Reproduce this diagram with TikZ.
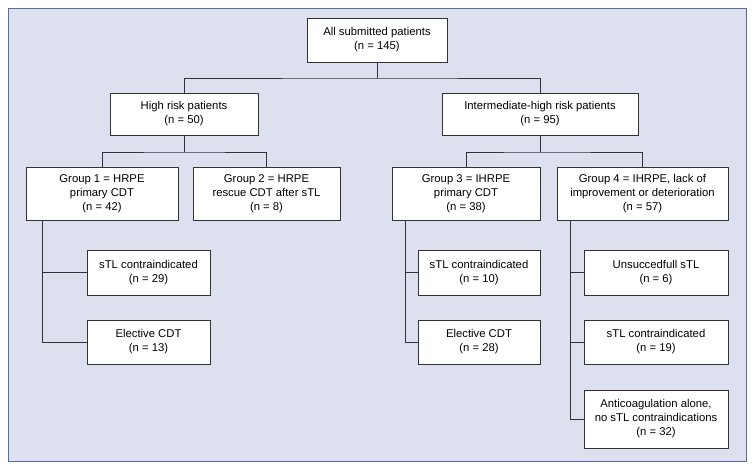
\documentclass[tikz,border=0pt]{standalone}
\usepackage{fontspec}
\setmainfont{Liberation Sans}
\definecolor{bgcol}{HTML}{DDE0EF}
\definecolor{framecol}{HTML}{5A6A9A}
\tikzset{
  box/.style={draw=black!80, fill=white, line width=0.6pt, align=center,
    inner sep=1pt, font=\fontsize{11.3}{14}\selectfont},
  link/.style={draw=black!80, line width=0.6pt}
}
\begin{document}
\begin{tikzpicture}[x=1pt, y=-1pt]
        % Frame
        \fill[white] (0,0) rectangle (754,469);
        \filldraw[fill=bgcol, draw=framecol, line width=0.8pt] (8,8) rectangle (746,461);

        % Levels
        \node[box, minimum width=140pt, minimum height=44pt] (all) at (377,40) {All submitted patients\\(n = 145)};
        \node[box, minimum width=148pt, minimum height=42pt] (high) at (184,114) {High risk patients\\(n = 50)};
        \node[box, minimum width=196pt, minimum height=42pt] (inter) at (540,114) {Intermediate-high risk patients\\(n = 95)};

        \node[box, minimum width=152pt, minimum height=53pt] (g1) at (102,193.5) {Group 1 = HRPE\\primary CDT\\(n = 42)};
        \node[box, minimum width=147pt, minimum height=53pt] (g2) at (266.5,193.5) {Group 2 = HRPE\\rescue CDT after sTL\\(n = 8)};
        \node[box, minimum width=148pt, minimum height=53pt] (g3) at (466,193.5) {Group 3 = IHRPE\\primary CDT\\(n = 38)};
        \node[box, minimum width=171pt, minimum height=53pt] (g4) at (642.5,193.5) {Group 4 = IHRPE, lack of\\improvement or deterioration\\(n = 57)};

        % Sub-boxes
        \node[box, minimum width=123pt, minimum height=45pt] (s1) at (148.5,272.5) {sTL contraindicated\\(n = 29)};
        \node[box, minimum width=123pt, minimum height=44pt] (s2) at (148.5,342) {Elective CDT\\(n = 13)};
        \node[box, minimum width=122pt, minimum height=45pt] (s3) at (479,272.5) {sTL contraindicated\\(n = 10)};
        \node[box, minimum width=122pt, minimum height=44pt] (s4) at (479,342) {Elective CDT\\(n = 28)};
        \node[box, minimum width=144pt, minimum height=45pt] (s5) at (656,272.5) {Unsuccedfull sTL\\(n = 6)};
        \node[box, minimum width=144pt, minimum height=44pt] (s6) at (656,342) {sTL contraindicated\\(n = 19)};
        \node[box, minimum width=144pt, minimum height=58pt] (s7) at (656,419) {Anticoagulation alone,\\no sTL contraindications\\(n = 32)};

        % Tree links
        \coordinate (j0) at (377,78);
        \draw[link] (all.south) -- (j0);
        \draw[link] (high.north) |- (j0) -| (inter.north);
        \coordinate (j1) at (184,152);
        \coordinate (j2) at (540,152);
        \draw[link] (high.south) -- (j1);
        \draw[link] (g1.north) |- (j1) -| (g2.north);
        \draw[link] (inter.south) -- (j2);
        \draw[link] (g3.north) |- (j2) -| (g4.north);

        % Side links
        \coordinate (t1) at (42,220);
        \coordinate (t3) at (405,220);
        \coordinate (t4) at (570,220);
        \draw[link] (t1) |- (s2.west);
        \draw[link] (t1 |- s1.west) -- (s1.west);
        \draw[link] (t3) |- (s4.west);
        \draw[link] (t3 |- s3.west) -- (s3.west);
        \draw[link] (t4) |- (s7.west);
        \foreach \n in {s5,s6}{
            \draw[link] (t4 |- \n.west) -- (\n.west);
        }
\end{tikzpicture}
\end{document}
